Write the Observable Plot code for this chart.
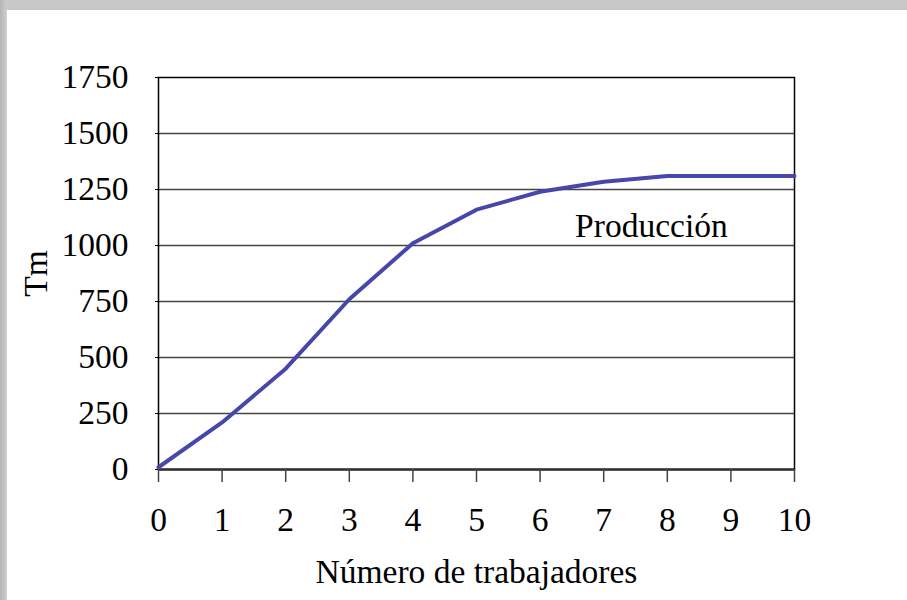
<!DOCTYPE html>
<html>
<head>
<meta charset="utf-8">
<script src="https://cdn.jsdelivr.net/npm/d3@7"></script>
<script src="https://cdn.jsdelivr.net/npm/@observablehq/plot@0.6"></script>
<style>
  html, body { margin: 0; padding: 0; background: #fff; }
  #page { position: relative; width: 907px; height: 600px; overflow: hidden; background: #fff; }
  #topband { position: absolute; left: 0; top: 0; width: 907px; height: 10px; background: #c8c8c8; }
  #leftband { position: absolute; left: 0; top: 0; width: 7px; height: 600px; background: linear-gradient(to right, #b4b4b4, #cfcfcf); }
  #chart { position: absolute; left: 0; top: 0; }
  #chart svg { background: transparent !important; }
</style>
</head>
<body>
<div id="page">
  <div id="topband"></div>
  <div id="leftband"></div>
  <div id="chart"></div>
</div>
<script>
const workers = [0, 1, 2, 3, 4, 5, 6, 7, 8, 9, 10];
const production = [10, 210, 450, 760, 1010, 1160, 1240, 1285, 1310, 1310, 1310];
const yTicks = [0, 250, 500, 750, 1000, 1250, 1500, 1750];
const xTicks = [0, 1, 2, 3, 4, 5, 6, 7, 8, 9, 10];
const seriesLabel = ["Producción"];
const seriesLabelPos = [{x: 7.75, y: 1085}];
const xTitle = "Número de trabajadores";
const yTitle = "Tm";

const data = workers.map((w, i) => ({x: w, y: production[i]}));
const labelData = seriesLabel.map((t, i) => ({text: t, ...seriesLabelPos[i]}));
const FS = 33.5;

const chart = Plot.plot({
  width: 907,
  height: 600,
  marginLeft: 158,
  marginRight: 113,
  marginTop: 77,
  marginBottom: 131,
  style: {fontFamily: "'Liberation Serif', 'Times New Roman', serif", fontSize: FS + "px", color: "#000", background: "transparent"},
  x: {domain: [0, 10], ticks: xTicks, label: null},
  y: {domain: [0, 1750], ticks: yTicks, label: null},
  marks: [
    Plot.ruleY(yTicks.filter(d => d > 0 && d < 1750), {stroke: "#444", strokeWidth: 1.5}),
    Plot.frame({stroke: "#000", strokeWidth: 1.5}),
    Plot.ruleY([0], {stroke: "#333", strokeWidth: 2.5}),
    Plot.axisX({ticks: xTicks, tickFormat: d3.format("d"), tickSize: 13, tickPadding: 25, stroke: "#444", strokeWidth: 1.5, fontSize: FS, label: null}),
    Plot.axisY({ticks: yTicks, tickFormat: d3.format("d"), tickSize: 3, tickPadding: 27, stroke: "#000", fontSize: FS, label: null}),
    Plot.line(data, {x: "x", y: "y", stroke: "#4747ab", strokeWidth: 4}),
    Plot.text(labelData, {x: "x", y: "y", text: "text", fontSize: FS, fill: "#000", textAnchor: "middle", lineAnchor: "middle"}),
    Plot.text([yTitle], {frameAnchor: "left", dx: -122, rotate: -90, textAnchor: "middle", lineAnchor: "middle", fontSize: FS, fill: "#000"}),
    Plot.text([xTitle], {frameAnchor: "bottom", dy: 103, textAnchor: "middle", lineAnchor: "middle", fontSize: FS, fill: "#000"})
  ]
});
document.getElementById("chart").appendChild(chart);
</script>
</body>
</html>
